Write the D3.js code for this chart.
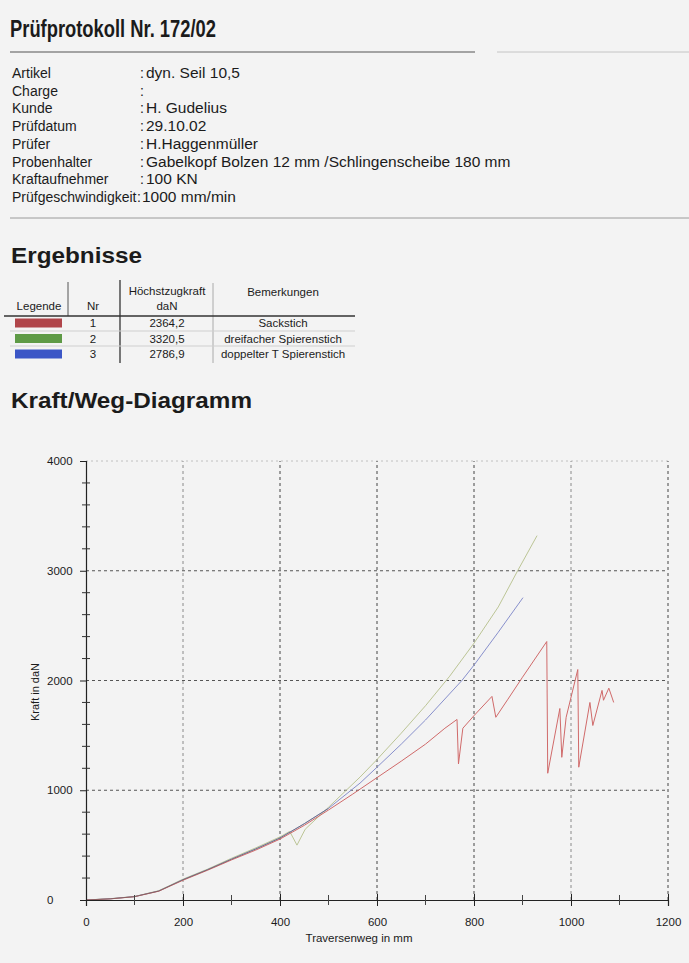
<!DOCTYPE html>
<html><head><meta charset="utf-8">
<script src="https://cdn.jsdelivr.net/npm/d3@7"></script>
<style>
html,body{margin:0;padding:0;background:#f3f3f3;}
svg{display:block;font-family:"Liberation Sans",Arial,sans-serif;}
</style></head>
<body>
<svg id="c" width="689" height="963"></svg>
<script>
// ---------- data ----------
const title = "Prüfprotokoll Nr. 172/02";
const infoLabels = ["Artikel","Charge","Kunde","Prüfdatum","Prüfer","Probenhalter","Kraftaufnehmer","Prüfgeschwindigkeit"];
const infoValues = ["dyn. Seil 10,5","","H. Gudelius","29.10.02","H.Haggenmüller","Gabelkopf Bolzen 12 mm /Schlingenscheibe 180 mm","100 KN","1000 mm/min"];
const tableNr = ["1","2","3"];
const tableMax = ["2364,2","3320,5","2786,9"];
const tableNotes = ["Sackstich","dreifacher Spierenstich","doppelter T Spierenstich"];
const legendColors = ["#b0454a","#5e9a46","#3b56c6"];
const lineColors = ["#d06a6a","#bcc596","#8890cc"];
const xTicks = [0,200,400,600,800,1000,1200];
const yTicks = [0,1000,2000,3000,4000];

const curveSackstich = [[0,0],[50,10],[100,30],[150,80],[200,180],[250,270],[300,365],[350,455],[400,555],[450,680],[500,820],[550,965],[600,1115],[650,1265],[700,1420],[740,1565],[765,1645],[768,1240],[777,1565],[800,1680],[837,1855],[845,1665],[870,1830],[900,2030],[950,2355],[952,1155],[977,1745],[981,1300],[990,1665],[1014,2100],[1016,1210],[1039,1800],[1045,1590],[1064,1910],[1067,1820],[1078,1930],[1085,1840],[1088,1800]];
const curveDreifach = [[0,0],[50,12],[100,32],[150,85],[200,190],[250,280],[300,380],[350,475],[400,575],[420,625],[435,500],[452,645],[500,845],[565,1120],[600,1280],[650,1520],[700,1770],[750,2040],[800,2340],[850,2670],[890,3000],[930,3320]];
const curveDoppelt = [[0,0],[50,11],[100,31],[150,82],[200,185],[250,275],[300,372],[350,465],[400,565],[450,695],[500,835],[565,1065],[600,1210],[650,1420],[700,1640],[775,2000],[800,2140],[850,2440],[901,2755]];
const curves = [curveSackstich, curveDreifach, curveDoppelt];

// ---------- drawing ----------
const svg = d3.select("#c");
const ink = "#1b1b1b";

svg.append("text").attr("x",10).attr("y",37).attr("font-size",24).attr("font-weight","bold")
  .attr("font-family","Liberation Sans Narrow, Liberation Sans, Arial, sans-serif")
  .attr("fill",ink).attr("textLength",206).attr("lengthAdjust","spacingAndGlyphs").text(title);
svg.append("line").attr("x1",10).attr("x2",475).attr("y1",52).attr("y2",52).attr("stroke","#555").attr("stroke-width",1.2);
svg.append("line").attr("x1",497).attr("x2",689).attr("y1",52).attr("y2",52).attr("stroke","#c4c4c4").attr("stroke-width",1);

const info = svg.append("g").attr("fill",ink);
infoLabels.forEach((l,i)=>{
  const yy = 78 + i*17.7;
  info.append("text").attr("x",12).attr("y",yy).attr("font-size",14).text(l);
  info.append("text").attr("x",i===7?137:140).attr("y",yy).attr("font-size",14).text(":");
  info.append("text").attr("x",i===7?142:146).attr("y",yy).attr("font-size",15.5).text(infoValues[i]);
});
svg.append("line").attr("x1",10).attr("x2",689).attr("y1",218).attr("y2",218).attr("stroke","#9a9a9a").attr("stroke-width",1);

svg.append("text").attr("x",11).attr("y",263).attr("font-size",22).attr("font-weight","bold").attr("fill",ink)
  .attr("textLength",131).attr("lengthAdjust","spacingAndGlyphs").text("Ergebnisse");

// table
const tb = svg.append("g").attr("font-size",11.5).attr("fill",ink).attr("text-anchor","middle");
tb.append("text").attr("x",39).attr("y",310).text("Legende");
tb.append("text").attr("x",93).attr("y",310).text("Nr");
tb.append("text").attr("x",167).attr("y",295).text("Höchstzugkraft");
tb.append("text").attr("x",167).attr("y",310).text("daN");
tb.append("text").attr("x",283).attr("y",296).text("Bemerkungen");
svg.append("line").attr("x1",68).attr("x2",68).attr("y1",282).attr("y2",316).attr("stroke","#555");
svg.append("line").attr("x1",120).attr("x2",120).attr("y1",280).attr("y2",363).attr("stroke","#333").attr("stroke-width",1.3);
svg.append("line").attr("x1",213).attr("x2",213).attr("y1",283).attr("y2",363).attr("stroke","#aaa");
svg.append("line").attr("x1",4).attr("x2",355).attr("y1",316).attr("y2",316).attr("stroke","#333").attr("stroke-width",1.3);
[331,346].forEach(yy=>svg.append("line").attr("x1",10).attr("x2",355).attr("y1",yy).attr("y2",yy).attr("stroke","#cfcfcf"));
tableNr.forEach((n,i)=>{
  const cy = 323 + i*15.5;
  svg.append("rect").attr("x",15).attr("y",cy-4.5).attr("width",47).attr("height",9).attr("fill",legendColors[i]);
  tb.append("text").attr("x",93).attr("y",cy+4).text(n);
  tb.append("text").attr("x",167).attr("y",cy+4).text(tableMax[i]);
  tb.append("text").attr("x",283).attr("y",cy+4).text(tableNotes[i]);
});

svg.append("text").attr("x",11).attr("y",408).attr("font-size",22).attr("font-weight","bold").attr("fill",ink)
  .attr("textLength",241).attr("lengthAdjust","spacingAndGlyphs").text("Kraft/Weg-Diagramm");

// chart
const x = d3.scaleLinear().domain([0,1200]).range([86,668]);
const y = d3.scaleLinear().domain([0,4000]).range([900,461]);
const g = svg.append("g");

// grid
yTicks.filter(v=>v>0).forEach(v=>{
  g.append("line").attr("x1",x(0)).attr("x2",x(1200)).attr("y1",y(v)).attr("y2",y(v))
    .attr("stroke",v===4000?"#c0c0c0":"#555").attr("stroke-dasharray",v===4000?"2,3":"3,3").attr("stroke-width",1);
});
xTicks.filter(v=>v>0).forEach(v=>{
  g.append("line").attr("x1",x(v)).attr("x2",x(v)).attr("y1",y(0)).attr("y2",y(4000))
    .attr("stroke",(v===200||v===1000)?"#8a8a8a":"#444").attr("stroke-dasharray","3,3").attr("stroke-width",1);
});

// curves
const line = d3.line().x(d=>x(d[0])).y(d=>y(d[1]));
[1,2,0].forEach(i=>{
  g.append("path").attr("d",line(curves[i])).attr("fill","none").attr("stroke",lineColors[i]).attr("stroke-width",1);
});
// dark overlap in lower part
g.append("path").attr("d",line(curveDoppelt.filter(d=>d[0]<=560))).attr("fill","none").attr("stroke","#555").attr("stroke-width",0.8).attr("opacity",0.7);

// axes
const yAxis = d3.axisLeft(y).tickValues(yTicks).tickSize(6).tickFormat(d3.format("d"));
const ya = g.append("g").attr("transform",`translate(${x(0)},0)`).call(yAxis);
ya.select(".domain").attr("stroke","#222").attr("stroke-width",1.2);
ya.selectAll(".tick line").attr("stroke","#222");
ya.selectAll(".tick text").attr("font-size",11.5).attr("fill",ink).attr("text-anchor","start").attr("x",-39).attr("font-family","Liberation Sans, Arial, sans-serif");
d3.range(200,4000,200).filter(v=>v%1000!==0).forEach(v=>{
  g.append("line").attr("x1",x(0)-4).attr("x2",x(0)+4).attr("y1",y(v)).attr("y2",y(v)).attr("stroke","#333");
});

const xAxis = d3.axisBottom(x).tickValues(xTicks).tickSize(6).tickPadding(12).tickFormat(d3.format("d"));
const xa = g.append("g").attr("transform",`translate(0,${y(0)})`).call(xAxis);
xa.select(".domain").attr("stroke","#222").attr("stroke-width",1.2);
xa.selectAll(".tick line").attr("stroke","#222").attr("y1",-6);
xa.selectAll(".tick text").attr("font-size",11.5).attr("fill",ink).attr("font-family","Liberation Sans, Arial, sans-serif");
d3.range(100,1200,200).forEach(v=>{
  g.append("line").attr("x1",x(v)).attr("x2",x(v)).attr("y1",y(0)-5).attr("y2",y(0)+5).attr("stroke","#444");
});

svg.append("text").attr("x",359).attr("y",942).attr("text-anchor","middle").attr("font-size",11.5).attr("fill",ink).text("Traversenweg in mm");
svg.append("text").attr("transform","translate(39,692) rotate(-90)").attr("text-anchor","middle").attr("font-size",11).attr("fill",ink).text("Kraft in daN");
</script>
</body></html>
